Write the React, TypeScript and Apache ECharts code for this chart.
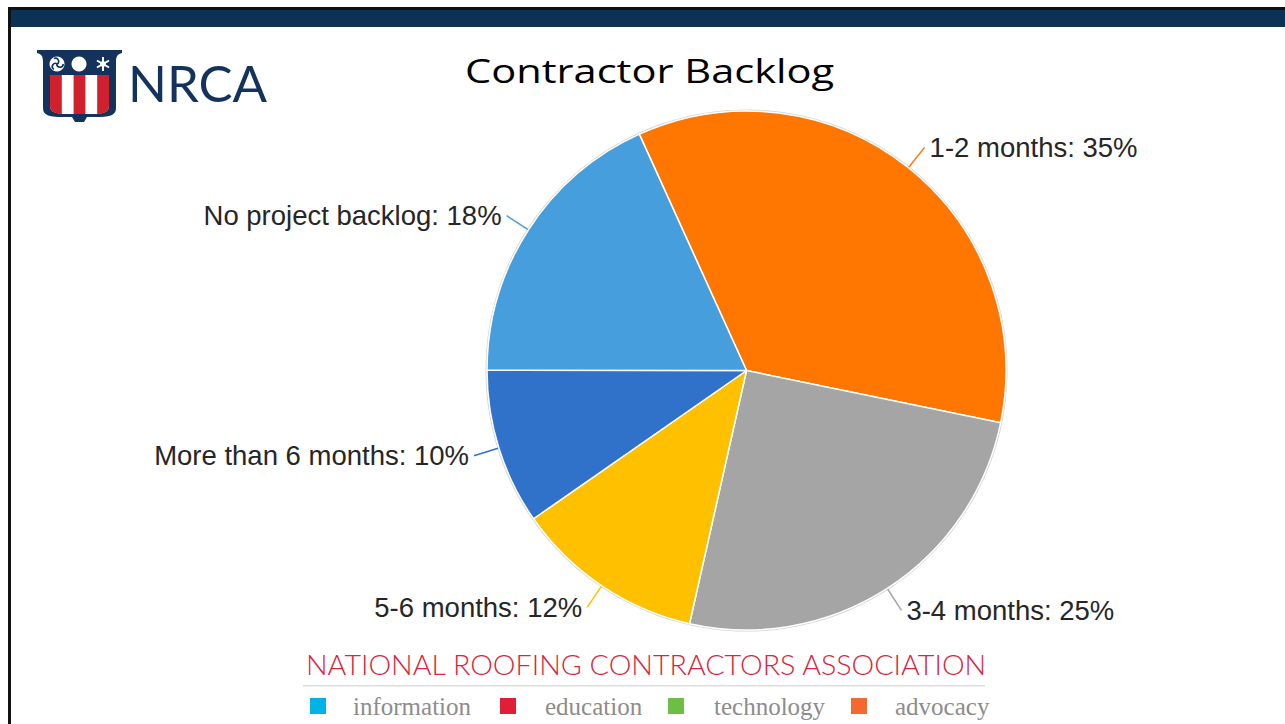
import React, { useEffect, useRef } from "react";
import * as echarts from "echarts";

// ---------- data (slice shares; labels show rounded %) ----------
const categories = ["1-2 months", "3-4 months", "5-6 months", "More than 6 months", "No project backlog"];
const shares = [35.0, 25.3, 11.8, 9.7, 18.2];
const sliceColors = ["#FF7700", "#A5A5A5", "#FFC000", "#3071C9", "#479EDC"];

const titleText = "Contractor Backlog";
const orgName = "NATIONAL ROOFING CONTRACTORS ASSOCIATION";
const footerItems = ["information", "education", "technology", "advocacy"];
const footerColors = ["#00B3E4", "#E01E37", "#6DBE45", "#F26A2E"];

// ---------- layout (decoration only) ----------
const footerSquareX = [310, 500, 668, 851];
const footerTextX = [353, 545, 714, 895];

// logo shapes (relative to logo origin)
const shieldOuterD =
  "M0,0 L85,0 L85,3 C80,4 79,7 79,12 L79,58 C79,66 72,67 58,67 L50,67 L47,72 L38,72 L35,67 L27,67 C13,67 6,66 6,58 L6,12 C6,7 5,4 0,3 Z";
const shieldInnerD = "M13,25 L72,25 L72,56 C72,62 66,64 56,64 L29,64 C19,64 13,62 13,56 Z";
const stripe1D = "M13,25 L24.8,25 L24.8,64 C17,63.5 13,61 13,56 Z";
const stripe3D = "M36.6,25 L48.4,25 L48.4,64 L36.6,64 Z";
const stripe5D = "M60.2,25 L72,25 L72,56 C72,61 68,63.5 60.2,64 Z";

let shapesRegistered = false;
function registerShapes() {
  if (shapesRegistered) return;
  shapesRegistered = true;
  echarts.graphic.registerShape("shieldOuter", echarts.graphic.extendPath(shieldOuterD, {}));
  echarts.graphic.registerShape("shieldInner", echarts.graphic.extendPath(shieldInnerD, {}));
  echarts.graphic.registerShape("stripe1", echarts.graphic.extendPath(stripe1D, {}));
  echarts.graphic.registerShape("stripe3", echarts.graphic.extendPath(stripe3D, {}));
  echarts.graphic.registerShape("stripe5", echarts.graphic.extendPath(stripe5D, {}));
}

export default function App() {
  const ref = useRef<HTMLDivElement>(null);

  useEffect(() => {
    if (!ref.current) return;
    registerShapes();
    const chart = echarts.init(ref.current, undefined, { renderer: "svg" });

    const navy = "#0C3154";
    const logoNavy = "#13335C";
    const red = "#D7263D";

    const snowflake: any[] = [];
    for (let k = 0; k < 3; k++) {
      const a = (k * Math.PI) / 3 + Math.PI / 2;
      snowflake.push({
        type: "line",
        shape: { x1: 66 - 7 * Math.cos(a), y1: 14 - 7 * Math.sin(a), x2: 66 + 7 * Math.cos(a), y2: 14 + 7 * Math.sin(a) },
        style: { stroke: "#fff", lineWidth: 2 },
      });
    }
    const blades: any[] = [];
    for (let k = 0; k < 3; k++) {
      const a0 = (k * 2 * Math.PI) / 3;
      blades.push({
        type: "arc",
        shape: { cx: 20 + 3 * Math.cos(a0), cy: 14 + 3 * Math.sin(a0), r: 3.2, startAngle: a0, endAngle: a0 + Math.PI },
        style: { stroke: logoNavy, lineWidth: 1.6, fill: null },
      });
    }

    const logo = {
      type: "group",
      x: 37,
      y: 50,
      children: [
        { type: "shieldOuter", style: { fill: logoNavy } },
        { type: "shieldInner", style: { fill: "#ffffff" } },
        { type: "stripe1", style: { fill: "#D0202E" } },
        { type: "stripe3", style: { fill: "#D0202E" } },
        { type: "stripe5", style: { fill: "#D0202E" } },
        { type: "circle", shape: { cx: 20, cy: 14, r: 7.5 }, style: { fill: "#fff" } },
        ...blades,
        { type: "circle", shape: { cx: 42, cy: 14, r: 7.5 }, style: { fill: "#fff" } },
        ...snowflake,
        { type: "circle", shape: { cx: 66, cy: 14, r: 3 }, style: { fill: "#fff" } },
      ],
    };

    const footerGraphics: any[] = [];
    footerItems.forEach((t, i) => {
      footerGraphics.push({
        type: "rect",
        shape: { x: footerSquareX[i], y: 698, width: 16, height: 16 },
        style: { fill: footerColors[i] },
      });
      footerGraphics.push({
        type: "text",
        x: footerTextX[i],
        y: 706,
        style: {
          text: t,
          font: "25px 'Liberation Serif', serif",
          fill: "#8C8C8C",
          textAlign: "left",
          textVerticalAlign: "middle",
        },
      });
    });

    chart.setOption({
      animation: false,
      backgroundColor: "#ffffff",
      graphic: [
        { type: "rect", shape: { x: 8, y: 7, width: 1277, height: 3 }, style: { fill: "#111" } },
        { type: "rect", shape: { x: 11, y: 10, width: 1274, height: 17 }, style: { fill: navy } },
        { type: "rect", shape: { x: 8, y: 7, width: 3, height: 717 }, style: { fill: "#111" } },
        logo,
        {
          type: "text",
          x: 128,
          y: 83,
          scaleX: 1.02,
          style: {
            text: "NRCA",
            font: "normal 50px Lato, 'Open Sans', sans-serif",
            fill: logoNavy,
            textAlign: "left",
            textVerticalAlign: "middle",
          },
        },
        {
          type: "text",
          x: 465,
          y: 70,
          scaleX: 1.3,
          style: {
            text: titleText,
            font: "32px 'Open Sans', sans-serif",
            fill: "#000",
            textAlign: "left",
            textVerticalAlign: "middle",
          },
        },
        {
          type: "text",
          x: 306,
          y: 665,
          scaleX: 1.061,
          style: {
            text: orgName,
            font: "300 27px Lato, sans-serif",
            fill: red,
            textAlign: "left",
            textVerticalAlign: "middle",
          },
        },
        { type: "rect", shape: { x: 303, y: 685, width: 682, height: 1.5 }, style: { fill: "#DDDDDD" } },
        ...footerGraphics,
      ],
      series: [
        {
          type: "pie",
          silent: true,
          z: 1,
          center: [746.5, 370.5],
          radius: 261,
          startAngle: 90,
          data: [{ value: 1, name: "", itemStyle: { color: "#D4D4D4" } }],
          label: { show: false },
          labelLine: { show: false },
          emphasis: { disabled: true },
        },
        {
          type: "pie",
          z: 2,
          center: [746.5, 370.5],
          radius: 259.5,
          startAngle: 114.4,
          clockwise: true,
          avoidLabelOverlap: false,
          data: categories.map((c, i) => ({ name: c, value: shares[i], itemStyle: { color: sliceColors[i] } })),
          itemStyle: { borderColor: "#ffffff", borderWidth: 1.5 },
          label: {
            show: true,
            position: "outside",
            formatter: (p: any) => `${p.name}: ${Math.round(p.percent)}%`,
            color: "#262626",
            fontSize: 27.5,
            fontFamily: "'Liberation Sans', Arial, sans-serif",
            distanceToLabelLine: 5,
          },
          labelLine: { show: true, length: 26, length2: 0, lineStyle: { width: 1.5 } },
          emphasis: { disabled: true },
        },
      ],
    });

    return () => chart.dispose();
  }, []);

  return <div ref={ref} style={{ position: "absolute", left: 0, top: 0, width: 1285, height: 724 }} />;
}
